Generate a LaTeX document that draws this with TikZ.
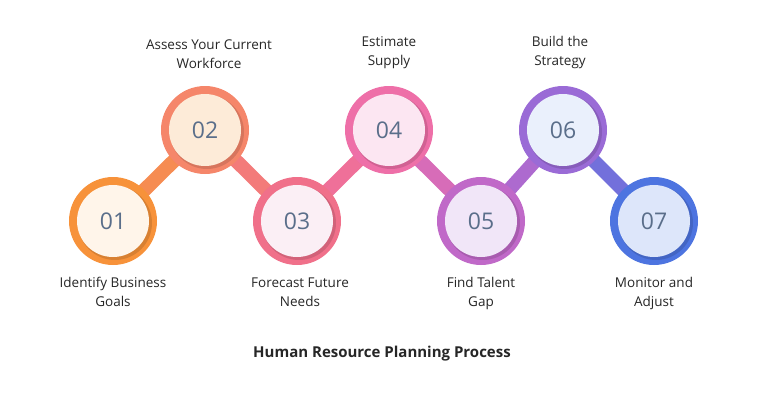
\documentclass[tikz,border=0pt]{standalone}
\usepackage{fontspec}
\setmainfont{Open Sans}
\definecolor{c1}{HTML}{F7923A}\definecolor{f1}{HTML}{FFF5EA}
\definecolor{c2}{HTML}{F5866A}\definecolor{f2}{HTML}{FDEBD8}
\definecolor{c3}{HTML}{F0708A}\definecolor{f3}{HTML}{FBEFF5}
\definecolor{c4}{HTML}{EE6FA8}\definecolor{f4}{HTML}{FCE6F2}
\definecolor{c5}{HTML}{C069C8}\definecolor{f5}{HTML}{F1E6F8}
\definecolor{c6}{HTML}{9A6BD6}\definecolor{f6}{HTML}{EAF0FC}
\definecolor{c7}{HTML}{4D74E0}\definecolor{f7}{HTML}{DDE6FA}
\definecolor{numc}{HTML}{5A6E8A}
\begin{document}
\begin{tikzpicture}[x=1pt,y=-1pt,
  lbl/.style={font=\fontsize{13.5}{19}\selectfont,text=black!85,align=center},
  num/.style={font=\fontsize{23}{25}\selectfont,text=numc},
  link/.style={line width=14pt}]
\useasboundingbox (0,0) rectangle (765,400);
\def\R{44}\def\r{36}
\foreach \n/\x/\y in {1/113/221,2/205/130,3/297/221,4/389/130,5/481/221,6/563/130,7/654/221}{
  \coordinate (p\n) at (\x,\y);
}
\foreach \a/\b in {1/2,2/3,3/4,4/5,5/6,6/7}{
  \draw[link,draw=c\a!50!c\b] (p\a) -- (p\b);
}
\foreach \n in {1,...,7}{
  \fill[c\n] (p\n) circle (\R);
  \fill[black,opacity=0.12] ([shift={(2,2)}]p\n) circle (\r+1);
  \node[circle,fill=f\n,minimum size=2*\r,inner sep=0,num] (n\n) at (p\n) {0\n};
}
\node[lbl,anchor=south] (t2) at (209,72) {Assess Your Current\\Workforce};
\node[lbl,anchor=south] (t4) at (389,72) {Estimate\\Supply};
\node[lbl,anchor=south] (t6) at (560,72) {Build the\\Strategy};
\node[lbl,anchor=north] (t1) at (113,274) {Identify Business\\Goals};
\node[lbl,anchor=north] (t3) at (300,274) {Forecast Future\\Needs};
\node[lbl,anchor=north] (t5) at (481,274) {Find Talent\\Gap};
\node[lbl,anchor=north] (t7) at (654,274) {Monitor and\\Adjust};
\node[font=\bfseries\fontsize{15}{17}\selectfont,text=black!85] (title) at (382,354) {Human Resource Planning Process};
\end{tikzpicture}
\end{document}
